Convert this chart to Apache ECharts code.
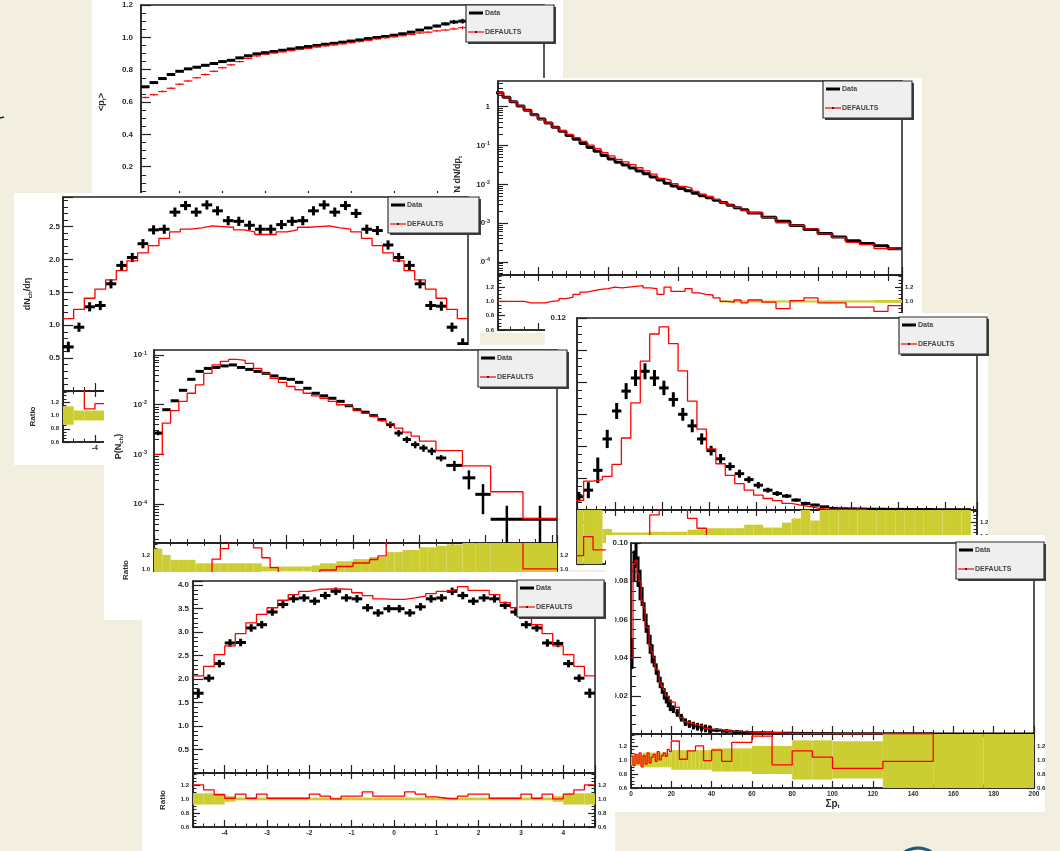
<!DOCTYPE html>
<html>
<head>
<meta charset="utf-8">
<title>Data vs DEFAULTS tune - collage</title>
<script src="https://cdn.jsdelivr.net/npm/echarts@6/dist/echarts.min.js"></script>
<style>
  html, body { margin: 0; padding: 0; background: #f3efe0; }
  #chart { width: 1060px; height: 851px; }
</style>
</head>
<body>
<div id="chart"></div>
<script>
// ---------------- values ----------------

// <p_t> vs N_ch (top left), bins of width 2 starting at 1
var meanPtBins = { start: 1, width: 2 };
var meanPtData = [0.694,0.72,0.745,0.77,0.79,0.805,0.815,0.827,0.838,0.85,0.858,0.873,0.886,0.898,0.905,0.912,0.92,0.928,0.936,0.943,
  0.95,0.957,0.963,0.97,0.977,0.984,0.992,0.999,1.005,1.013,1.022,1.032,1.045,1.058,1.07,1.083,1.095,1.10,1.105,1.11,1.115];
var meanPtDataErr = [0.004,0.004,0.004,0.004,0.004,0.004,0.004,0.004,0.004,0.004,0.004,0.004,0.004,0.004,0.004,0.004,0.004,0.004,0.004,0.004,
  0.004,0.004,0.004,0.004,0.004,0.004,0.004,0.004,0.004,0.004,0.004,0.004,0.006,0.007,0.008,0.01,0.012,0.015,0.02,0.025,0.03];
var meanPtMc = [0.628,0.645,0.665,0.685,0.71,0.73,0.75,0.77,0.79,0.812,0.83,0.85,0.87,0.885,0.895,0.903,0.91,0.918,0.925,0.932,
  0.94,0.947,0.953,0.96,0.967,0.974,0.982,0.99,0.997,1.003,1.01,1.018,1.027,1.032,1.04,1.045,1.052,1.06,1.052,1.065,1.07];
var meanPtMcErr = [0.006,0.006,0.006,0.006,0.006,0.006,0.006,0.006,0.006,0.006,0.006,0.006,0.006,0.006,0.006,0.006,0.006,0.006,0.006,0.006,
  0.006,0.006,0.006,0.006,0.006,0.006,0.006,0.006,0.006,0.006,0.006,0.006,0.006,0.006,0.006,0.006,0.008,0.01,0.012,0.014,0.016];

// 1/N dN/dp_t (top right): fine bins of 0.1 up to 4.0, then 0.2
var dndptFineBins = { start: 0.4, width: 0.1, count: 36 };
var dndptCoarseBins = { start: 4.0, width: 0.2, count: 11 };
var dndptData = [2.29,1.76,1.35,1.05,0.81,0.62,0.48,0.38,0.295,0.234,0.182,0.145,0.112,0.089,0.071,0.055,0.0447,0.0372,0.0316,0.0263,
  0.0219,0.0186,0.0155,0.0129,0.0107,0.0091,0.0078,0.0068,0.0059,0.0051,0.0045,0.0039,0.0034,0.0029,0.0025,0.0022,
  0.00182,0.00141,0.00112,0.00087,0.00068,0.00054,0.00044,0.00035,0.00030,0.00026,0.00022];
var dndptMc = [2.29,1.76,1.35,1.05,0.79,0.61,0.47,0.38,0.298,0.243,0.193,0.159,0.127,0.102,0.083,0.065,0.054,0.044,0.038,0.032,
  0.0267,0.0221,0.0183,0.0142,0.0128,0.0104,0.0089,0.0080,0.0066,0.0056,0.0049,0.0041,0.0034,0.0029,0.00255,0.00216,
  0.00186,0.00140,0.00101,0.00088,0.00071,0.00053,0.00043,0.00032,0.00028,0.00022,0.00021];
var dndptRatio = [1.0,1.0,1.0,1.0,0.98,0.98,0.98,1.0,1.01,1.04,1.06,1.10,1.13,1.15,1.17,1.18,1.20,1.19,1.20,1.21,
  1.22,1.19,1.18,1.10,1.20,1.14,1.14,1.18,1.12,1.10,1.09,1.05,1.0,0.99,1.02,0.98,
  1.02,0.99,0.90,1.01,1.05,0.98,0.98,0.92,0.92,0.86,0.94];
var dndptBand = [0,0,0,0,0,0,0,0,0,0,0,0,0,0,0,0,0,0,0,0,0,0,0,0,0,0,0,0,0,0,0,0,
  0.015,0.015,0.015,0.015,0.015,0.015,0.015,0.015,0.015,0.015,0.015,0.015,0.015,0.02,0.02];
var dndptTickExp = [0, -1, -2, -3, -4];
var dndptTickText = ['1', '10{e|-1}', '10{e|-2}', '10{e|-3}', '10{e|-4}'];

// dN_ch/d(eta) (middle left), bins of width 0.25
var etaBins = { start: -4.75, width: 0.25 };
var dndEtaData = [0.67,0.97,1.28,1.30,1.63,1.91,2.03,2.24,2.45,2.46,2.72,2.82,2.72,2.83,2.74,2.59,2.58,2.52,2.46,
  2.46,2.53,2.58,2.59,2.74,2.83,2.72,2.82,2.70,2.46,2.44,2.22,2.03,1.91,1.63,1.30,1.29,0.97,0.72];
var dndEtaErr = [0.08,0.07,0.07,0.07,0.07,0.07,0.07,0.07,0.07,0.07,0.07,0.07,0.07,0.07,0.07,0.07,0.07,0.07,0.07,
  0.07,0.07,0.07,0.07,0.07,0.07,0.07,0.07,0.07,0.07,0.07,0.07,0.07,0.07,0.07,0.07,0.07,0.07,0.08];
var dndEtaMc = [1.10,1.24,1.41,1.55,1.69,1.83,1.98,2.10,2.21,2.32,2.42,2.46,2.48,2.51,2.50,2.49,2.45,2.42,2.38,
  2.38,2.42,2.45,2.49,2.50,2.51,2.48,2.46,2.42,2.32,2.21,2.10,1.98,1.83,1.69,1.55,1.41,1.24,1.10];
var dndEtaRatio = [1.45,1.45,1.10,1.18,1.04,0.96,0.98,0.94,0.90,0.94,0.89,0.87,0.91,0.89,0.91,0.96,0.95,0.96,0.97,
  0.97,0.96,0.95,0.96,0.91,0.89,0.91,0.87,0.89,0.94,0.90,0.94,0.98,0.96,1.04,1.19,1.10,1.28,1.53];
var dndEtaBand = [0.14,0.075,0.075,0.075,0.05,0.04,0.04,0.04,0.04,0.04,0.04,0.04,0.04,0.04,0.04,0.04,0.04,0.04,0.04,
  0.04,0.04,0.04,0.04,0.04,0.04,0.04,0.04,0.04,0.04,0.04,0.04,0.04,0.04,0.05,0.075,0.075,0.075,0.14];

// P(N_ch) (centre), variable bins
var nchDataEdges = [0,1,2,3,4,5,6,7,8,9,10,11,12,13,14,15,16,17,18,19,20,21,22,23,24,25,26,27,28,29,30,31,32,33,34,35.25,37.2,38.75,40.6,44.5,48.6];
var nchMcEdges = [0,1,2,3,4,5,6,7,8,9,10,11,12,13,14,15,16,17,18,19,20,21,22,23,24,25,26,27,28,29,30,31,32,33,34,37.2,40.6,44.5,48.6];
var nchData = [0.00269,0.00794,0.0120,0.0195,0.0324,0.0468,0.0537,0.0562,0.0603,0.0631,0.0562,0.0513,0.0468,0.0427,0.0380,0.0339,0.0324,0.0282,0.0214,0.0170,
  0.0151,0.0135,0.0117,0.00955,0.00794,0.00708,0.00603,0.00501,0.00398,0.00269,0.00200,0.00158,0.00135,0.00117,
  0.00085,0.000603,0.000339,0.000158,0.0000501,0.0000501];
var nchDataErr = [0.00025,0.0004,0.0005,0.0007,0.0009,0.0012,0.0013,0.0013,0.0014,0.0014,0.0013,0.0012,0.0011,0.001,0.0009,0.0008,0.0008,0.0007,0.0006,0.0005,
  0.0005,0.0005,0.0004,0.0004,0.0004,0.0004,0.0004,0.0004,0.0006,0.0004,0.0003,0.00025,0.00022,0.0002,
  0.00012,0.00014,0.00014,0.000095,0.000043,0.000043];
var nchMc = [0.001,0.00427,0.00759,0.0117,0.0170,0.0251,0.0427,0.0631,0.0741,0.0813,0.0776,0.0676,0.0537,0.0427,0.0339,0.0282,0.0234,0.0200,0.0170,0.0151,
  0.0135,0.0117,0.0100,0.00933,0.00776,0.00676,0.00589,0.00479,0.00417,0.00339,0.00282,0.00234,0.00186,0.00186,
  0.00120,0.000589,0.000178,0.0000513];
var nchRatio = [0.37,0.54,0.63,0.60,0.52,0.54,0.80,1.14,1.29,1.5,1.5,1.5,1.30,1.16,1.02,0.85,0.8,0.8,0.8,0.935,
  0.985,0.985,1.035,1.035,1.085,1.085,1.135,1.185,1.5,1.5,1.5,1.5,1.5,1.5,1.5,1.5,1.5,1.0];
var nchBand = [0.29,0.2,0.13,0.13,0.13,0.08,0.08,0.08,0.08,0.08,0.08,0.08,0.08,0.035,0.035,0.035,0.035,0.035,0.035,0.05,
  0.08,0.08,0.11,0.11,0.14,0.14,0.17,0.17,0.24,0.24,0.27,0.27,0.31,0.31,0.33,0.35,0.4,0.45,0.6,0.6];
var nchTickExp = [-1, -2, -3, -4];
var nchTickText = ['10{e|-1}', '10{e|-2}', '10{e|-3}', '10{e|-4}'];

// peaked distribution (middle right), bins of width 2
var peakBins = { start: 1.4, width: 2 };
var peakData = [0.0083,0.0124,0.0248,0.0444,0.0619,0.0743,0.0825,0.0867,0.0825,0.0763,0.0691,0.0598,0.0526,0.0444,0.0371,0.032,0.0272,0.0227,0.019,0.0155,
  0.0124,0.0103,0.0087,0.0062,0.0041,0.0031,0.002,0.001,0.0008,0.0007,0.0006,0.0005,0.0005,0.0004,0.0004,0.0003,0.0003,0.0003,0.0002,0.0002,0.0002,0.0002];
var peakErr = [0.003,0.005,0.008,0.0057,0.005,0.005,0.005,0.005,0.005,0.0045,0.0045,0.004,0.004,0.0035,0.003,0.003,0.0025,0.0025,0.002,0.002,
  0.0015,0.0015,0.0012,0.001,0.001,0.0008,0.0006,0.0005,0.0003,0.0003,0.0003,0.0003,0.0003,0.0003,0.0003,0.0003,0.0003,0.0003,0.0003,0.0003,0.0003,0.0003];
var peakMc = [0.006,0.018,0.019,0.021,0.0285,0.045,0.067,0.093,0.110,0.1145,0.104,0.087,0.068,0.0506,0.0382,0.0289,0.0217,0.0165,0.0124,0.0093,
  0.0072,0.0058,0.0041,0.0031,0.0021,0.0010,0.0004,0.0004,0.0004,0.0004,0.0004];
var peakRatio = [0.72,0.99,0.8,0.8,0.8,0.8,0.8,0.8,1.30,1.5,1.5,1.5,1.25,1.11,0.9,0.9,0.9,0.9,0.9,0.9,
  0.9,0.9,0.9,0.9,0.9,0.9,0.9,0.9,0.9,0.9,0.9];
var peakBand = [0.5,0.5,0.5,0.10,0.05,0.05,0.05,0.05,0.06,0.06,0.06,0.06,0.09,0.09,0.11,0.11,0.11,0.11,0.16,0.16,
  0.12,0.12,0.19,0.25,0.5,0.22,0.5,0.5,0.5,0.5,0.5,0.5,0.5,0.5,0.5,0.5,0.5,0.5,0.5,0.5,0.5,0.5];

// second dN_ch/d(eta) (bottom centre), same eta bins
var dndEta2Data = [1.70,2.02,2.33,2.77,2.78,3.09,3.16,3.43,3.59,3.71,3.73,3.66,3.78,3.87,3.73,3.71,3.52,3.41,3.50,
  3.50,3.41,3.54,3.71,3.73,3.87,3.78,3.66,3.73,3.71,3.57,3.43,3.16,3.09,2.77,2.76,2.33,2.02,1.70];
var dndEta2Err = [0.1,0.08,0.08,0.08,0.08,0.08,0.08,0.08,0.08,0.08,0.08,0.08,0.08,0.08,0.08,0.08,0.08,0.08,0.08,
  0.08,0.08,0.08,0.08,0.08,0.08,0.08,0.08,0.08,0.08,0.08,0.08,0.08,0.08,0.08,0.08,0.08,0.08,0.1];
var dndEta2Mc = [2.07,2.27,2.52,2.71,2.97,3.20,3.38,3.52,3.68,3.80,3.87,3.91,3.92,3.92,3.91,3.84,3.78,3.71,3.70,3.70,
  3.73,3.77,3.82,3.87,3.91,3.97,3.89,3.89,3.80,3.63,3.52,3.38,3.16,2.97,2.71,2.52,2.27,2.07];
var dndEta2Ratio = [1.20,1.13,1.06,1.01,1.07,1.01,1.07,1.01,1.01,1.01,1.01,1.07,1.04,1.0,1.04,1.04,1.10,1.04,1.04,1.04,
  1.10,1.07,1.03,1.01,1.0,1.04,1.07,1.07,1.01,1.01,1.01,1.07,1.01,1.07,1.0,1.07,1.13,1.20];
var dndEta2Band = [0.08,0.08,0.08,0.04,0.02,0.02,0.02,0.02,0.02,0.02,0.02,0.02,0.02,0.02,0.02,0.02,0.02,0.02,0.02,0.02,
  0.02,0.02,0.02,0.02,0.02,0.02,0.02,0.02,0.02,0.02,0.02,0.02,0.02,0.02,0.04,0.08,0.08,0.08];

// sum p_t (bottom right), variable bins
var sumPtEdges = [0,1,2,3,4,5,6,7,8,9,10,11,12,13,14,15,16,17,18,19,20,22,24,26,28,30,32,34,36,38,40,45,50,55,60,70,80,90,100,125,150,175,200];
var sumPtData = [0.042,0.088,0.095,0.085,0.078,0.072,0.064,0.058,0.052,0.047,0.042,0.038,0.034,0.030,0.027,0.024,0.021,0.019,0.017,0.015,
  0.013,0.011,0.0085,0.0062,0.0052,0.0044,0.0038,0.0034,0.0029,0.0025,0.0020,0.0015,0.0011,0.0008,0.0006,0.0004,0.0003,0.0002,0.00015,0.0001,0.00005,0.00003];
var sumPtErr = [0.008,0.008,0.008,0.008,0.008,0.005,0.005,0.005,0.005,0.005,0.005,0.003,0.003,0.003,0.003,0.003,0.003,0.003,0.003,0.003,
  0.002,0.002,0.002,0.002,0.002,0.002,0.002,0.002,0.002,0.002,0.001,0.001,0.001,0.001,0.0006,0.0006,0.0006,0.0006,0.0004,0.0004,0.0004,0.0004];
var sumPtMc = [0.040,0.089,0.091,0.084,0.080,0.070,0.066,0.056,0.055,0.046,0.043,0.040,0.034,0.033,0.027,0.025,0.023,0.020,0.019,0.017,
  0.0165,0.014,0.0086,0.0064,0.0059,0.0050,0.0046,0.0041,0.0029,0.0025,0.0023,0.0015,0.0014,0.0010,0.0008,0.00037,0.00034,0.00021,0.00013,0.0001];
var sumPtRatio = [1.05,0.92,1.08,0.95,1.1,0.9,1.06,0.94,1.1,0.96,1.04,1.08,0.98,1.12,1.0,1.06,1.1,1.05,1.15,1.12,
  1.27,1.27,1.01,1.01,1.13,1.13,1.20,1.20,0.99,0.99,1.14,0.98,1.25,1.25,1.34,0.93,1.13,1.04,0.88,0.98,1.6,1.6];
var sumPtBand = [0.08,0.08,0.08,0.08,0.08,0.08,0.105,0.105,0.105,0.105,0.105,0.105,0.105,0.105,0.105,0.105,0.105,0.105,0.105,0.105,
  0.14,0.14,0.14,0.14,0.14,0.14,0.14,0.14,0.14,0.14,0.165,0.165,0.165,0.165,0.2,0.2,0.28,0.28,0.265,0.5,0.5,0.5];

// ---------------- helpers ----------------
var INK = '#222';
var FONT = '"Liberation Sans", Arial, sans-serif';
var option = {
  animation: false,
  backgroundColor: '#f3efe0',
  grid: [], xAxis: [], yAxis: [], series: [], graphic: []
};

function uniformEdges(bins, n) {
  var e = [];
  for (var i = 0; i <= n; i++) e.push(Math.round((bins.start + bins.width * i) * 1e4) / 1e4);
  return e;
}
function font(size, extra) {
  return Object.assign({fontSize: size, fontWeight: 'bold', color: '#2b2b2b', fontFamily: FONT}, extra || {});
}
var SUB = {s: font(6, {verticalAlign: 'bottom', padding: [4, 0, 0, 0]})};
var SUP = {e: font(5.5, {verticalAlign: 'top', padding: [0, 0, 4, 0]})};

function ticks(len, minorLen, split) {
  return {
    axisTick: {show: true, inside: true, length: len, lineStyle: {color: INK, width: 1.2}},
    minorTick: {show: split > 0, splitNumber: split || 4, length: minorLen, lineStyle: {color: INK, width: 1}}
  };
}
function axis(gi, z, o) {
  return Object.assign({
    type: 'value', gridIndex: gi, z: z,
    splitLine: {show: false},
    axisLine: {show: true, onZero: false, lineStyle: {color: INK, width: 1.5}},
    axisLabel: {show: false}
  }, o);
}
function addX(o) { option.xAxis.push(o); return option.xAxis.length - 1; }
function addY(o) { option.yAxis.push(o); return option.yAxis.length - 1; }
function addGrid(r, z) {
  option.grid.push({left: r[0], top: r[1], width: r[2], height: r[3], show: true,
    backgroundColor: 'rgba(0,0,0,0)', borderColor: INK, borderWidth: 1.5, z: z});
  return option.grid.length - 1;
}
function panelBg(r, z) {
  option.graphic.push({type: 'rect', silent: true, z: z, shape: {x: r[0], y: r[1], width: r[2], height: r[3]}, style: {fill: '#ffffff'}});
}
function fixed(d) { return function (v) { return v.toFixed(d); }; }
function onStep(step, d) {
  return function (v) { return Math.abs(v / step - Math.round(v / step)) < 1e-6 ? v.toFixed(d) : ''; };
}

function legendBox(x, y, w, h, z) {
  var g = option.graphic;
  g.push({type: 'rect', silent: true, z: z, shape: {x: x + 2, y: y + 2, width: w, height: h}, style: {fill: '#3c3c3c'}});
  g.push({type: 'rect', silent: true, z: z + 0.1, shape: {x: x, y: y, width: w, height: h}, style: {fill: '#efefef', stroke: '#333', lineWidth: 1.2}});
  g.push({type: 'line', silent: true, z: z + 0.2, shape: {x1: x + 3, y1: y + 8, x2: x + 17, y2: y + 8}, style: {stroke: '#000', lineWidth: 3}});
  g.push({type: 'text', silent: true, z: z + 0.2, x: x + 19, y: y + 8,
    style: {text: 'Data', fill: '#444', fontSize: 7, fontWeight: 'bold', fontFamily: FONT, verticalAlign: 'middle'}});
  g.push({type: 'line', silent: true, z: z + 0.2, shape: {x1: x + 2, y1: y + 27, x2: x + 18, y2: y + 27}, style: {stroke: '#f00', lineWidth: 1.2}});
  g.push({type: 'circle', silent: true, z: z + 0.3, shape: {cx: x + 10, cy: y + 27, r: 1}, style: {fill: '#000'}});
  g.push({type: 'text', silent: true, z: z + 0.2, x: x + 19, y: y + 27,
    style: {text: 'DEFAULTS', fill: '#444', fontSize: 7, fontWeight: 'bold', fontFamily: FONT, verticalAlign: 'middle'}});
}

// data points: horizontal bar over the bin plus vertical error bar
function pointSeries(name, xi, yi, edges, vals, errs, color, hw, vw, z) {
  var data = vals.map(function (v, i) { return [edges[i], edges[i + 1], v, errs ? errs[i] : 0]; });
  return {
    type: 'custom', name: name, xAxisIndex: xi, yAxisIndex: yi, z: z, clip: true, silent: true,
    encode: {x: [0, 1], y: 2}, data: data,
    renderItem: function (params, api) {
      var lo = api.value(0), hi = api.value(1), v = api.value(2), e = api.value(3);
      var a = api.coord([lo, v]), b = api.coord([hi, v]);
      var kids = [{type: 'line', shape: {x1: a[0], y1: a[1], x2: b[0], y2: b[1]}, style: {stroke: color, lineWidth: hw}}];
      if (e > 0) {
        var m = (lo + hi) / 2;
        var t = api.coord([m, v + e]), u = api.coord([m, Math.max(v - e, 1e-9)]);
        kids.push({type: 'line', shape: {x1: t[0], y1: t[1], x2: u[0], y2: u[1]}, style: {stroke: color, lineWidth: vw}});
      }
      return {type: 'group', children: kids};
    }
  };
}
// histogram outline
function stepSeries(name, xi, yi, edges, vals, color, w, z) {
  var data = vals.map(function (v, i) { return [edges[i], v]; });
  data.push([edges[vals.length], vals[vals.length - 1]]);
  return {type: 'line', name: name, xAxisIndex: xi, yAxisIndex: yi, z: z, step: 'end', symbol: 'none',
    silent: true, clip: true, lineStyle: {color: color, width: w}, itemStyle: {color: color}, data: data};
}
// uncertainty band around ratio 1 plus the reference line
function bandSeries(xi, yi, edges, errs, z) {
  var data = errs.map(function (e, i) { return [edges[i], edges[i + 1], e]; });
  return {
    type: 'custom', name: 'band', xAxisIndex: xi, yAxisIndex: yi, z: z, clip: true, silent: true,
    encode: {x: [0, 1], y: 2}, data: data,
    renderItem: function (params, api) {
      var e = api.value(2);
      if (!(e > 0)) return {type: 'group', children: []};
      var a = api.coord([api.value(0), 1 + e]), b = api.coord([api.value(1), 1 - e]);
      return {type: 'rect', shape: {x: a[0], y: a[1], width: b[0] - a[0], height: b[1] - a[1]}, style: {fill: '#cccc33'}};
    },
    markLine: {silent: true, symbol: ['none', 'none'], label: {show: false}, animation: false,
      lineStyle: {color: '#000', width: 1.5, type: 'solid'}, data: [{yAxis: 1}]}
  };
}

function logAxis(gi, z, min, max, exps, texts, o) {
  var vals = exps.map(function (k) { return Math.pow(10, k); });
  return axis(gi, z, {
    type: 'log', logBase: 10, position: 'left', min: min, max: max,
    axisTick: {show: true, inside: true, length: 10, customValues: vals, lineStyle: {color: INK, width: 1.2}},
    minorTick: {show: false},
    axisLabel: font(8, {show: true, margin: o.margin, customValues: vals, rich: SUP,
      formatter: function (v) {
        var l = Math.log(v) / Math.LN10, k = Math.round(l), i = exps.indexOf(k);
        return (Math.abs(l - k) < 0.02 && i >= 0) ? texts[i] : '';
      }}),
    name: o.name, nameLocation: 'middle', nameGap: o.nameGap, nameTextStyle: font(9, {rich: SUB})
  });
}
function logMinorAxis(gi, z, min, max) {
  var vals = [];
  for (var k = Math.floor(Math.log10(min)); k <= Math.ceil(Math.log10(max)); k++) {
    for (var m = 2; m <= 9; m++) {
      var v = m * Math.pow(10, k);
      if (v > min && v < max) vals.push(v);
    }
  }
  return axis(gi, z, {type: 'log', logBase: 10, position: 'left', min: min, max: max, axisLine: {show: false},
    axisTick: {show: true, inside: true, length: 5, customValues: vals, lineStyle: {color: INK, width: 1}},
    minorTick: {show: false}, axisLabel: {show: false}});
}

var RATIO_Y = {min: 0.6, max: 1.37, interval: 0.2};
function ratioAxes(gi, z, xr, minorSplit, o) {
  var xLab = {show: false};
  if (o.xLabels) {
    xLab = font(6.5, {show: true, margin: 3, showMinLabel: !!o.showEdges, showMaxLabel: !!o.showEdges,
      formatter: function (v) { return Math.abs(v - Math.round(v)) < 1e-6 ? String(Math.round(v)) : ''; }});
  }
  var xb = addX(axis(gi, z, Object.assign({position: 'bottom'}, xr, ticks(7, 3.5, minorSplit), {
    axisLabel: xLab, name: o.xName || '', nameLocation: 'middle', nameGap: o.xNameGap || 10,
    nameTextStyle: font(10, {rich: SUB})})));
  addX(axis(gi, z, Object.assign({position: 'top'}, xr, ticks(6, 3, minorSplit))));
  var yl = addY(axis(gi, z, Object.assign({position: 'left'}, RATIO_Y, ticks(7, 3.5, 4), {
    axisLabel: o.hideLeftLabels ? {show: false} : font(6, {show: true, margin: 4, showMaxLabel: false, formatter: onStep(0.2, 1)}),
    name: 'Ratio', nameLocation: 'middle', nameGap: o.nameGap || 25, nameTextStyle: font(8)})));
  addY(axis(gi, z, Object.assign({position: 'right'}, RATIO_Y, ticks(7, 3.5, 4), {
    axisLabel: font(6, {show: true, margin: 3, showMaxLabel: false, formatter: onStep(0.2, 1)})})));
  return [xb, yl];
}

// ---------------- panels (back to front) ----------------

// <p_t> vs N_ch
(function () {
  var z = 10;
  panelBg([92, -2, 471, 202], z);
  var g = addGrid([141, 5, 403, 194], z + 1);
  var xi = addX(axis(g, z + 1, Object.assign({position: 'bottom', min: 1, max: 95, splitNumber: 9}, ticks(8, 4, 5))));
  var yi = addY(axis(g, z + 1, Object.assign({position: 'left', min: 0, max: 1.2, interval: 0.2}, ticks(10, 5, 4), {
    axisLabel: font(8, {show: true, margin: 8, showMinLabel: false, formatter: fixed(1)}),
    name: '<p{s|t}>', nameLocation: 'middle', nameGap: 34, nameTextStyle: font(9, {rich: SUB})})));
  var edges = uniformEdges(meanPtBins, meanPtData.length);
  option.series.push(pointSeries('Data', xi, yi, edges, meanPtData, meanPtDataErr, '#000', 3, 2, z + 3));
  option.series.push(pointSeries('DEFAULTS', xi, yi, edges, meanPtMc, meanPtMcErr, '#f00', 1.2, 1, z + 4));
  legendBox(466, 5, 88, 37, z + 5);
})();

// 1/N dN/dp_t
(function () {
  var z = 20;
  panelBg([450, 78, 472, 255], z);
  var gm = addGrid([498, 81, 404, 194], z + 1);
  var gr = addGrid([498, 275, 404, 55], z + 1);
  var xr = {min: 0.4286, max: 6.2, splitNumber: 6};
  var xm = addX(axis(gm, z + 1, Object.assign({position: 'bottom'}, xr, ticks(8, 4, 5))));
  var ym = addY(logAxis(gm, z + 1, 4.6e-5, 4.6, dndptTickExp, dndptTickText, {margin: 8, name: '1/N dN/dp{s|t}', nameGap: 35}));
  addY(logMinorAxis(gm, z + 1, 4.6e-5, 4.6));
  var r = ratioAxes(gr, z + 1, xr, 5, {xLabels: false, nameGap: 27});
  var edges = uniformEdges(dndptFineBins, dndptFineBins.count)
    .concat(uniformEdges(dndptCoarseBins, dndptCoarseBins.count).slice(1));
  // the dense data markers read as one thick black stepped line
  option.series.push(stepSeries('Data', xm, ym, edges, dndptData, '#000', 3, z + 3));
  option.series.push(stepSeries('DEFAULTS', xm, ym, edges, dndptMc, '#f00', 1.3, z + 4));
  option.series.push(bandSeries(r[0], r[1], edges, dndptBand, z + 2));
  option.series.push(stepSeries('DEFAULTS', r[0], r[1], edges, dndptRatio, '#f00', 1.3, z + 4));
  legendBox(823, 81, 89, 37, z + 5);
})();

// dN_ch/d(eta)
(function () {
  var z = 30;
  panelBg([14, 193, 466, 272], z);
  var gm = addGrid([63, 197, 405, 194], z + 1);
  var gr = addGrid([63, 391, 405, 51], z + 1);
  var xr = {min: -4.75, max: 4.75, splitNumber: 9};
  var xm = addX(axis(gm, z + 1, Object.assign({position: 'bottom'}, xr, ticks(8, 4, 4))));
  var ym = addY(axis(gm, z + 1, Object.assign({position: 'left', min: 0, max: 2.95, interval: 0.5}, ticks(10, 5, 5), {
    axisLabel: font(8, {show: true, margin: 3, showMinLabel: false, showMaxLabel: false, formatter: onStep(0.5, 1)}),
    name: 'dN{s|ch}/dη', nameLocation: 'middle', nameGap: 30, nameTextStyle: font(9, {rich: SUB})})));
  var r = ratioAxes(gr, z + 1, xr, 4, {xLabels: true, nameGap: 26});
  var edges = uniformEdges(etaBins, dndEtaData.length);
  option.series.push(pointSeries('Data', xm, ym, edges, dndEtaData, dndEtaErr, '#000', 3, 3, z + 3));
  option.series.push(stepSeries('DEFAULTS', xm, ym, edges, dndEtaMc, '#f00', 1.3, z + 4));
  option.series.push(bandSeries(r[0], r[1], edges, dndEtaBand, z + 2));
  option.series.push(stepSeries('DEFAULTS', r[0], r[1], edges, dndEtaRatio, '#f00', 1.3, z + 4));
  legendBox(388, 197, 91, 36, z + 5);
})();

// peaked distribution (middle right)
(function () {
  var z = 40;
  panelBg([545, 313, 443, 257], z);
  var gm = addGrid([577, 318, 400, 192], z + 1);
  var gr = addGrid([577, 510, 400, 54], z + 1);
  var xr = {min: 2, max: 86.7, splitNumber: 8};
  var xm = addX(axis(gm, z + 1, Object.assign({position: 'bottom'}, xr, ticks(8, 4, 5))));
  var ym = addY(axis(gm, z + 1, Object.assign({position: 'left', min: 0, max: 0.12, interval: 0.02}, ticks(10, 5, 4), {
    axisLabel: font(8, {show: true, margin: 11, formatter: fixed(2)})})));
  var r = ratioAxes(gr, z + 1, xr, 5, {xLabels: false, hideLeftLabels: true, nameGap: 27});
  var edges = uniformEdges(peakBins, peakData.length);
  option.series.push(pointSeries('Data', xm, ym, edges, peakData, peakErr, '#000', 3, 3, z + 3));
  option.series.push(stepSeries('DEFAULTS', xm, ym, edges, peakMc, '#f00', 1.3, z + 4));
  option.series.push(bandSeries(r[0], r[1], edges, peakBand, z + 2));
  option.series.push(stepSeries('DEFAULTS', r[0], r[1], edges, peakRatio, '#f00', 1.3, z + 4));
  legendBox(899, 317, 88, 37, z + 5);
})();

// P(N_ch)
(function () {
  var z = 50;
  panelBg([104, 345, 462, 275], z);
  var gm = addGrid([154, 350, 403, 193], z + 1);
  var gr = addGrid([154, 543, 403, 54], z + 1);
  var xr = {min: 0, max: 48.6, interval: 8};
  var xm = addX(axis(gm, z + 1, Object.assign({position: 'bottom'}, xr, ticks(8, 4, 4))));
  var ym = addY(logAxis(gm, z + 1, 1.66e-5, 0.126, nchTickExp, nchTickText, {margin: 7, name: 'P(N{s|ch})', nameGap: 30}));
  addY(logMinorAxis(gm, z + 1, 1.66e-5, 0.126));
  var r = ratioAxes(gr, z + 1, xr, 4, {xLabels: false, nameGap: 24});
  option.series.push(pointSeries('Data', xm, ym, nchDataEdges, nchData, nchDataErr, '#000', 3, 2.5, z + 3));
  option.series.push(stepSeries('DEFAULTS', xm, ym, nchMcEdges, nchMc, '#f00', 1.3, z + 4));
  option.series.push(bandSeries(r[0], r[1], nchDataEdges, nchBand, z + 2));
  option.series.push(stepSeries('DEFAULTS', r[0], r[1], nchMcEdges, nchRatio, '#f00', 1.3, z + 4));
  legendBox(478, 350, 89, 37, z + 5);
})();

// sum p_t (bottom right)
(function () {
  var z = 60;
  panelBg([606, 535, 439, 277], z);
  var gm = addGrid([631, 543, 403, 191], z + 1);
  var gr = addGrid([631, 734, 403, 54], z + 1);
  var xr = {min: 0, max: 200, interval: 20};
  var xm = addX(axis(gm, z + 1, Object.assign({position: 'bottom'}, xr, ticks(8, 4, 4))));
  var ym = addY(axis(gm, z + 1, Object.assign({position: 'left', min: 0, max: 0.10, interval: 0.02}, ticks(10, 5, 4), {
    axisLabel: font(8, {show: true, margin: 3, showMinLabel: false, formatter: fixed(2)})})));
  var r = ratioAxes(gr, z + 1, xr, 4, {xLabels: true, showEdges: true, xName: 'Σp{s|t}', xNameGap: 10, nameGap: 26});
  option.series.push(pointSeries('Data', xm, ym, sumPtEdges, sumPtData, sumPtErr, '#000', 3, 3, z + 3));
  option.series.push(stepSeries('DEFAULTS', xm, ym, sumPtEdges, sumPtMc, '#f00', 1.3, z + 4));
  option.series.push(bandSeries(r[0], r[1], sumPtEdges, sumPtBand, z + 2));
  option.series.push(stepSeries('DEFAULTS', r[0], r[1], sumPtEdges, sumPtRatio, '#f00', 1.3, z + 4));
  legendBox(956, 542, 88, 37, z + 5);
})();

// second dN_ch/d(eta) (bottom centre, front)
(function () {
  var z = 70;
  panelBg([142, 572, 473, 285], z);
  var gm = addGrid([193, 581, 402, 192], z + 1);
  var gr = addGrid([193, 773, 402, 54], z + 1);
  var xr = {min: -4.75, max: 4.75, splitNumber: 9};
  var xm = addX(axis(gm, z + 1, Object.assign({position: 'bottom'}, xr, ticks(8, 4, 4))));
  var ym = addY(axis(gm, z + 1, Object.assign({position: 'left', min: 0, max: 4.09, interval: 0.5}, ticks(10, 5, 5), {
    axisLabel: font(8, {show: true, margin: 4, showMinLabel: false, showMaxLabel: false, formatter: onStep(0.5, 1)})})));
  var r = ratioAxes(gr, z + 1, xr, 4, {xLabels: true, nameGap: 26});
  var edges = uniformEdges(etaBins, dndEta2Data.length);
  option.series.push(pointSeries('Data', xm, ym, edges, dndEta2Data, dndEta2Err, '#000', 3, 3, z + 3));
  option.series.push(stepSeries('DEFAULTS', xm, ym, edges, dndEta2Mc, '#f00', 1.3, z + 4));
  option.series.push(bandSeries(r[0], r[1], edges, dndEta2Band, z + 2));
  option.series.push(stepSeries('DEFAULTS', r[0], r[1], edges, dndEta2Ratio, '#f00', 1.3, z + 4));
  legendBox(517, 580, 87, 37, z + 5);
})();

// small page decorations
option.graphic.push({type: 'line', silent: true, z: 1, shape: {x1: 0, y1: 118, x2: 4, y2: 117}, style: {stroke: '#222', lineWidth: 1.5}});
option.graphic.push({type: 'circle', silent: true, z: 1, shape: {cx: 918, cy: 872, r: 24}, style: {fill: 'none', stroke: '#1e5a78', lineWidth: 3}});

var chart = echarts.init(document.getElementById('chart'), null, {renderer: 'canvas'});
chart.setOption(option);
</script>
</body>
</html>
